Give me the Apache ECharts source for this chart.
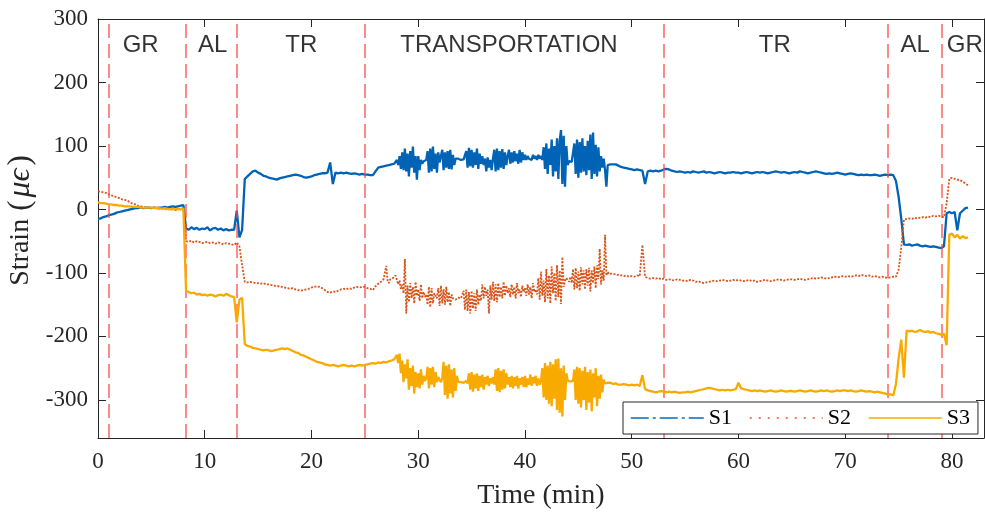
<!DOCTYPE html>
<html>
<head>
<meta charset="utf-8">
<script src="https://cdn.jsdelivr.net/npm/echarts@6/dist/echarts.min.js"></script>
<style>
  html, body { margin: 0; padding: 0; background: #fff; }
  #chart { width: 985px; height: 515px; }
</style>
</head>
<body>
<div id="chart"></div>
<script>
// Sampling of the records: every 0.25 min, except 0.125 min through the transport phase.
const sampling = [
  { start: 0,  step: 0.25,  count: 108 },   // 0 - 26.75
  { start: 27, step: 0.125, count: 176 },   // 27 - 48.875
  { start: 49, step: 0.25,  count: 131 }    // 49 - 81.5
];

const s1 = [
  // 0 - 26.75
  -15,-14,-12,-11, -9,-8,-7,-5, -4,-3,-2,-1, 0,1,2,2, 3,2,3,3,
  2,3,2,3, 3,4,3,4, 5,4,5,6, 7,-30,-32,-28, -31,-29,-32,-30,
  -31,-28,-33,-30, -29,-32,-30,-33, -31,-33,-32,-32, -2,-44,-32,48, 52,56,60,61,
  58,56,53,52, 50,49,48,47, 49,50,51,52, 53,54,55,54, 53,51,50,51,
  52,54,55,56, 57,57,58,74, 40,58,57,58, 57,58,57,56, 57,56,55,56,
  55,55,54,54, 60,66,67,68,
  // 27 - 48.875
  69,70,70,71, 71,72,72,74,
  78,70,84,64, 90,62,96,60,
  88,52,92,66, 99,58,84,47,
  84,62,78,72, 76,74,78,92,
  58,96,60,99, 64,88,58,90,
  74,76,94,62, 90,66,92,64,
  94,63,86,70, 80,78,80,79,
  78,80,79,81, 92,66,97,68,
  94,66,90,70, 96,64,88,72,
  84,70,80,60, 82,66,78,62,
  80,94,60,96, 62,92,66,95,
  64,90,70,84, 94,72,90,74,
  92,76,88,72, 94,74,90,78,
  86,78,84,80, 82,78,86,80,
  84,78,86,80, 84,78,98,64,
  104,56,96,70, 110,52,100,60,
  112,48,108,125, 40,116,36,100,
  70,76,78,75, 77,104,56,110,
  50,106,58,112, 60,100,54,108,
  62,118,48,121, 56,102,52,98,
  60,84,66,80, 62,36,70,72,
  71,72,71,70, 71,70,69,70,
  // 49 - 81.5
  67,66,65,64,
  63,62,63,62, 61,40,60,61, 60,61,60,61, 63,64,63,61, 60,59,60,59,
  58,59,58,60, 59,58,59,60, 58,59,58,57, 58,59,58,57, 58,58,59,58,
  58,57,58,59, 58,57,58,59, 58,59,58,57, 58,59,60,59, 58,59,58,57,
  58,59,58,60, 59,58,57,58, 59,60,59,58, 57,56,57,56, 57,58,57,56,
  55,56,57,56, 55,54,55,54, 55,54,54,55, 54,53,54,55, 54,55,54,45,
  20,-15,-55,-56, -55,-57,-56,-55, -57,-58,-57,-58, -59,-58,-59,-60, -61,-58,-6,-4,
  -6,-4,-33,-6, -2,2,3
];

const s2 = [
  // 0 - 26.75
  29,28,27,26, 24,22,21,19, 18,16,15,14, 11,9,8,6, 5,4,3,3,
  2,3,2,1, 2,1,0,1, 0,-1,0,1, 2,-50,-51,-49, -52,-50,-51,-53,
  -52,-51,-53,-52, -54,-52,-53,-55, -53,-54,-55,-56, -52,-58,-88,-114, -115,-114,-115,-116,
  -116,-117,-116,-118, -118,-119,-120,-121, -121,-122,-123,-124, -125,-124,-126,-127, -128,-127,-126,-125,
  -123,-122,-121,-122, -124,-127,-130,-131, -129,-130,-128,-126, -125,-126,-124,-125, -123,-122,-123,-122,
  -122,-124,-125,-127, -121,-117,-114,-110,
  // 27 - 48.875
  -89,-112,-116,-110, -112,-108,-106,-104,
  -102,-118,-112,-126, -118,-132,-78,-164,
  -120,-146,-116,-140, -122,-148,-114,-136,
  -126,-144,-118,-140, -130,-138,-134,-150,
  -122,-154,-124,-148, -132,-136,-140,-124,
  -152,-120,-148,-126, -150,-122,-146,-130,
  -152,-134,-140,-138, -142,-140,-139,-141,
  -140,-142,-128,-158, -126,-160,-130,-164,
  -128,-156,-132,-160, -126,-150,-134,-144,
  -118,-140,-122,-136, -126,-164,-120,-142,
  -114,-144,-118,-146, -116,-138,-122,-140,
  -114,-136,-120,-132, -124,-138,-118,-134,
  -122,-140,-116,-132, -126,-138,-120,-130,
  -124,-136,-118,-134, -122,-140,-116,-130,
  -126,-134,-108,-142, -98,-136,-112,-146,
  -94,-140,-104,-148, -90,-132,-100,-144,
  -88,-138,-96,-149, -75,-122,-112,-108,
  -110,-114,-106,-116, -94,-126,-92,-124,
  -98,-128,-91,-118, -96,-126,-94,-120,
  -92,-129,-96,-116, -90,-124,-88,-110,
  -62,-118,-96,-112, -40,-104,-98,-102,
  -100,-101,-100,-102, -101,-103,-102,-103,
  // 49 - 81.5
  -104,-105,-104,-106,
  -105,-106,-104,-105, -56,-106,-108,-109, -108,-109,-108,-110, -109,-111,-110,-111, -112,-110,-111,-112,
  -112,-113,-111,-112, -114,-113,-115,-116, -115,-114,-113,-112, -113,-112,-111,-112, -113,-112,-111,-112,
  -111,-112,-113,-112, -111,-113,-112,-114, -113,-112,-111,-112, -113,-112,-111,-110, -111,-112,-111,-110,
  -110,-111,-110,-109, -110,-111,-110,-109, -108,-109,-108,-107, -108,-109,-108,-107, -106,-107,-106,-105,
  -106,-105,-106,-105, -104,-105,-103,-104, -105,-104,-106,-105, -106,-107,-106,-107, -108,-107,-106,-106,
  -95,-60,-16,-15, -14,-15,-13,-14, -13,-12,-13,-11, -12,-10,-11,-10, -11,-12,10,48,
  50,48,47,46, 44,41,38
];

const s3 = [
  // 0 - 26.75
  11,10,10,9, 8,8,7,7, 6,6,5,5, 5,4,4,4, 3,3,3,3,
  3,2,3,2, 1,2,1,0, 1,0,1,0, 2,-128,-130,-132, -131,-134,-133,-135,
  -134,-136,-134,-135, -137,-135,-134,-136, -133,-135,-137,-138, -178,-142,-139,-212, -215,-216,-218,-219,
  -220,-221,-222,-221, -222,-223,-222,-221, -220,-219,-220,-219, -221,-223,-225,-226, -229,-230,-232,-234,
  -236,-238,-240,-241, -242,-244,-245,-246, -245,-246,-247,-246, -245,-246,-247,-246, -247,-246,-245,-246,
  -245,-244,-243,-242, -243,-241,-242,-240,
  // 27 - 48.875
  -241,-240,-239,-238, -238,-237,-236,-236,
  -229,-242,-227,-258, -238,-272,-244,-266,
  -236,-284,-250,-278, -246,-290,-256,-280,
  -258,-282,-252,-276, -262,-270,-266,-248,
  -282,-250,-276,-248, -280,-256,-272,-264,
  -268,-272,-266,-240, -292,-246,-298,-244,
  -290,-252,-296,-250, -286,-262,-272,-270,
  -272,-270,-273,-271, -270,-274,-258,-284,
  -256,-287,-260,-282, -258,-286,-262,-280,
  -260,-284,-264,-276, -262,-278,-266,-274,
  -264,-276,-252,-286, -250,-288,-254,-284,
  -252,-282,-258,-276, -264,-280,-262,-282,
  -264,-278,-262,-282, -266,-276,-264,-280,
  -262,-280,-266,-276, -260,-278,-264,-274,
  -262,-278,-266,-276, -270,-250,-296,-242,
  -300,-246,-306,-240, -310,-244,-298,-236,
  -316,-235,-320,-250, -326,-246,-300,-258,
  -270,-272,-271,-273, -270,-252,-300,-248,
  -306,-250,-312,-254, -300,-248,-316,-256,
  -304,-252,-318,-258, -296,-250,-310,-262,
  -298,-260,-288,-268, -274,-272,-273,-274,
  -273,-274,-275,-273, -274,-275,-276,-275,
  // 49 - 81.5
  -276,-275,-276,-277,
  -276,-277,-276,-278, -261,-283,-285,-286, -287,-288,-287,-286, -287,-288,-287,-288, -287,-288,-289,-288,
  -288,-287,-288,-287, -286,-285,-284,-283, -282,-281,-282,-283, -284,-285,-284,-285, -284,-285,-284,-283,
  -273,-282,-283,-284, -285,-286,-285,-286, -285,-286,-287,-286, -285,-286,-287,-286, -285,-286,-287,-286,
  -286,-287,-286,-285, -286,-287,-286,-285, -286,-287,-286,-285, -286,-285,-286,-287, -286,-285,-286,-285,
  -285,-286,-285,-286, -287,-286,-285,-286, -287,-286,-287,-288, -287,-288,-289,-290, -292,-291,-293,-275,
  -235,-205,-265,-191, -192,-191,-193,-192, -190,-192,-193,-192, -194,-193,-195,-196, -197,-196,-214,-40,
  -38,-44,-40,-46, -42,-45,-44
];

// Phase boundaries (min) and the phase names written between them
const phaseBounds = [1, 8.2, 13, 25, 53, 74, 79];
const phaseNames = ['GR', 'AL', 'TR', 'TRANSPORTATION', 'TR', 'AL', 'GR'];
const phaseCentres = [4.0, 10.75, 19.05, 38.5, 63.4, 76.55, 81.2];
const phaseLabelLevel = 258;

const xTicks = [0, 10, 20, 30, 40, 50, 60, 70, 80];
const yTicks = [-300, -200, -100, 0, 100, 200, 300];

const seriesNames = ['S1', 'S2', 'S3'];
const seriesColors = ['#0063B6', '#D95319', '#F8AA00'];

// time stamps shared by the three gauges
const times = [];
sampling.forEach(seg => {
  for (let i = 0; i < seg.count; i++) times.push(+(seg.start + i * seg.step).toFixed(3));
});
const toPairs = vals => vals.map((v, i) => [times[i], v]);

const serif = 'Liberation Serif';
const sans = 'Liberation Sans';
const axisColor = '#262626';

const baseX = {
  type: 'value', min: 0, max: 83,
  splitLine: { show: false },
  axisLine: { show: true, onZero: false, lineStyle: { color: axisColor, width: 1 } },
  axisTick: { show: true, inside: true, length: 8, customValues: xTicks, lineStyle: { color: axisColor } }
};
const baseY = {
  type: 'value', min: -360, max: 300,
  splitLine: { show: false },
  axisLine: { show: true, onZero: false, lineStyle: { color: axisColor, width: 1 } },
  axisTick: { show: true, inside: true, length: 8, customValues: yTicks, lineStyle: { color: axisColor } }
};

const chart = echarts.init(document.getElementById('chart'), null, { renderer: 'canvas' });

const lineSeries = [s1, s2, s3].map((vals, k) => ({
  name: seriesNames[k],
  type: 'line',
  data: toPairs(vals),
  showSymbol: false,
  symbol: 'none',
  sampling: null,
  z: 3 + k,
  lineStyle: {
    color: seriesColors[k],
    width: k === 1 ? 1.8 : 2.3,
    type: k === 1 ? [2, 1.5] : 'solid'
  },
  itemStyle: { color: seriesColors[k] }
}));

// legend keys: line pattern only, no marker
const legendKeys = [
  { name: 'S1', lineStyle: { type: [18, 4, 3, 4], width: 1.5, color: '#0072BD' } },
  { name: 'S2', lineStyle: { type: [2, 7], width: 1.5, color: '#E8501E' } },
  { name: 'S3', lineStyle: { type: 'solid', width: 1.5, color: seriesColors[2] } }
].map(d => Object.assign(d, { itemStyle: { opacity: 0, borderWidth: 0 } }));

chart.setOption({
  animation: false,
  backgroundColor: '#fff',
  grid: { left: 98, top: 19, width: 886, height: 421, containLabel: false },
  xAxis: [
    Object.assign({}, baseX, {
      position: 'bottom',
      axisLabel: { show: true, customValues: xTicks, margin: 12, fontFamily: serif, fontSize: 23, color: axisColor },
      name: 'Time (min)', nameLocation: 'middle', nameGap: 44,
      nameTextStyle: { fontFamily: serif, fontSize: 28, color: axisColor }
    }),
    Object.assign({}, baseX, { position: 'top', axisLabel: { show: false } })
  ],
  yAxis: [
    Object.assign({}, baseY, {
      position: 'left',
      axisLabel: { show: true, customValues: yTicks, margin: 10, fontFamily: serif, fontSize: 23, color: axisColor }
    }),
    Object.assign({}, baseY, { position: 'right', axisLabel: { show: false } })
  ],
  graphic: [{
    type: 'text',
    x: 21, y: 220,
    rotation: Math.PI / 2,
    silent: true,
    style: {
      text: '{a|Strain }{p|(}{b|μϵ}{p|)}',
      align: 'center', verticalAlign: 'middle',
      rich: {
        a: { fontFamily: serif, fontSize: 28, fill: axisColor },
        p: { fontFamily: serif, fontSize: 31, fill: axisColor, padding: [0, 1, 0, 1] },
        b: { fontFamily: serif, fontSize: 32, fontStyle: 'italic', fill: axisColor, padding: [0, 2, 0, 2] }
      }
    }
  }],
  legend: {
    left: 623, top: 402, z: 20,
    orient: 'horizontal',
    selectedMode: false,
    itemWidth: 73, itemHeight: 10, itemGap: 17,
    padding: [5, 8, 5, 7],
    borderColor: axisColor, borderWidth: 1, borderRadius: 0,
    backgroundColor: '#fff',
    textStyle: { fontFamily: serif, fontSize: 22, color: '#000' },
    data: legendKeys
  },
  series: [
    {
      name: 'phases', type: 'line', data: [], z: 2,
      markLine: {
        silent: true, symbol: ['none', 'none'], animation: false,
        label: { show: false },
        lineStyle: { color: 'rgba(255,70,70,0.85)', width: 1.5, type: [14, 6] },
        data: phaseBounds.map(b => ({ xAxis: b }))
      }
    },
    ...lineSeries,
    {
      name: 'phaseNames', type: 'scatter', symbolSize: 0, silent: true, z: 10,
      data: phaseNames.map((n, i) => ({ name: n, value: [phaseCentres[i], phaseLabelLevel] })),
      label: {
        show: true, position: 'inside', formatter: p => p.name,
        fontFamily: sans, fontSize: 24, color: '#000'
      }
    }
  ]
});
</script>
</body>
</html>
